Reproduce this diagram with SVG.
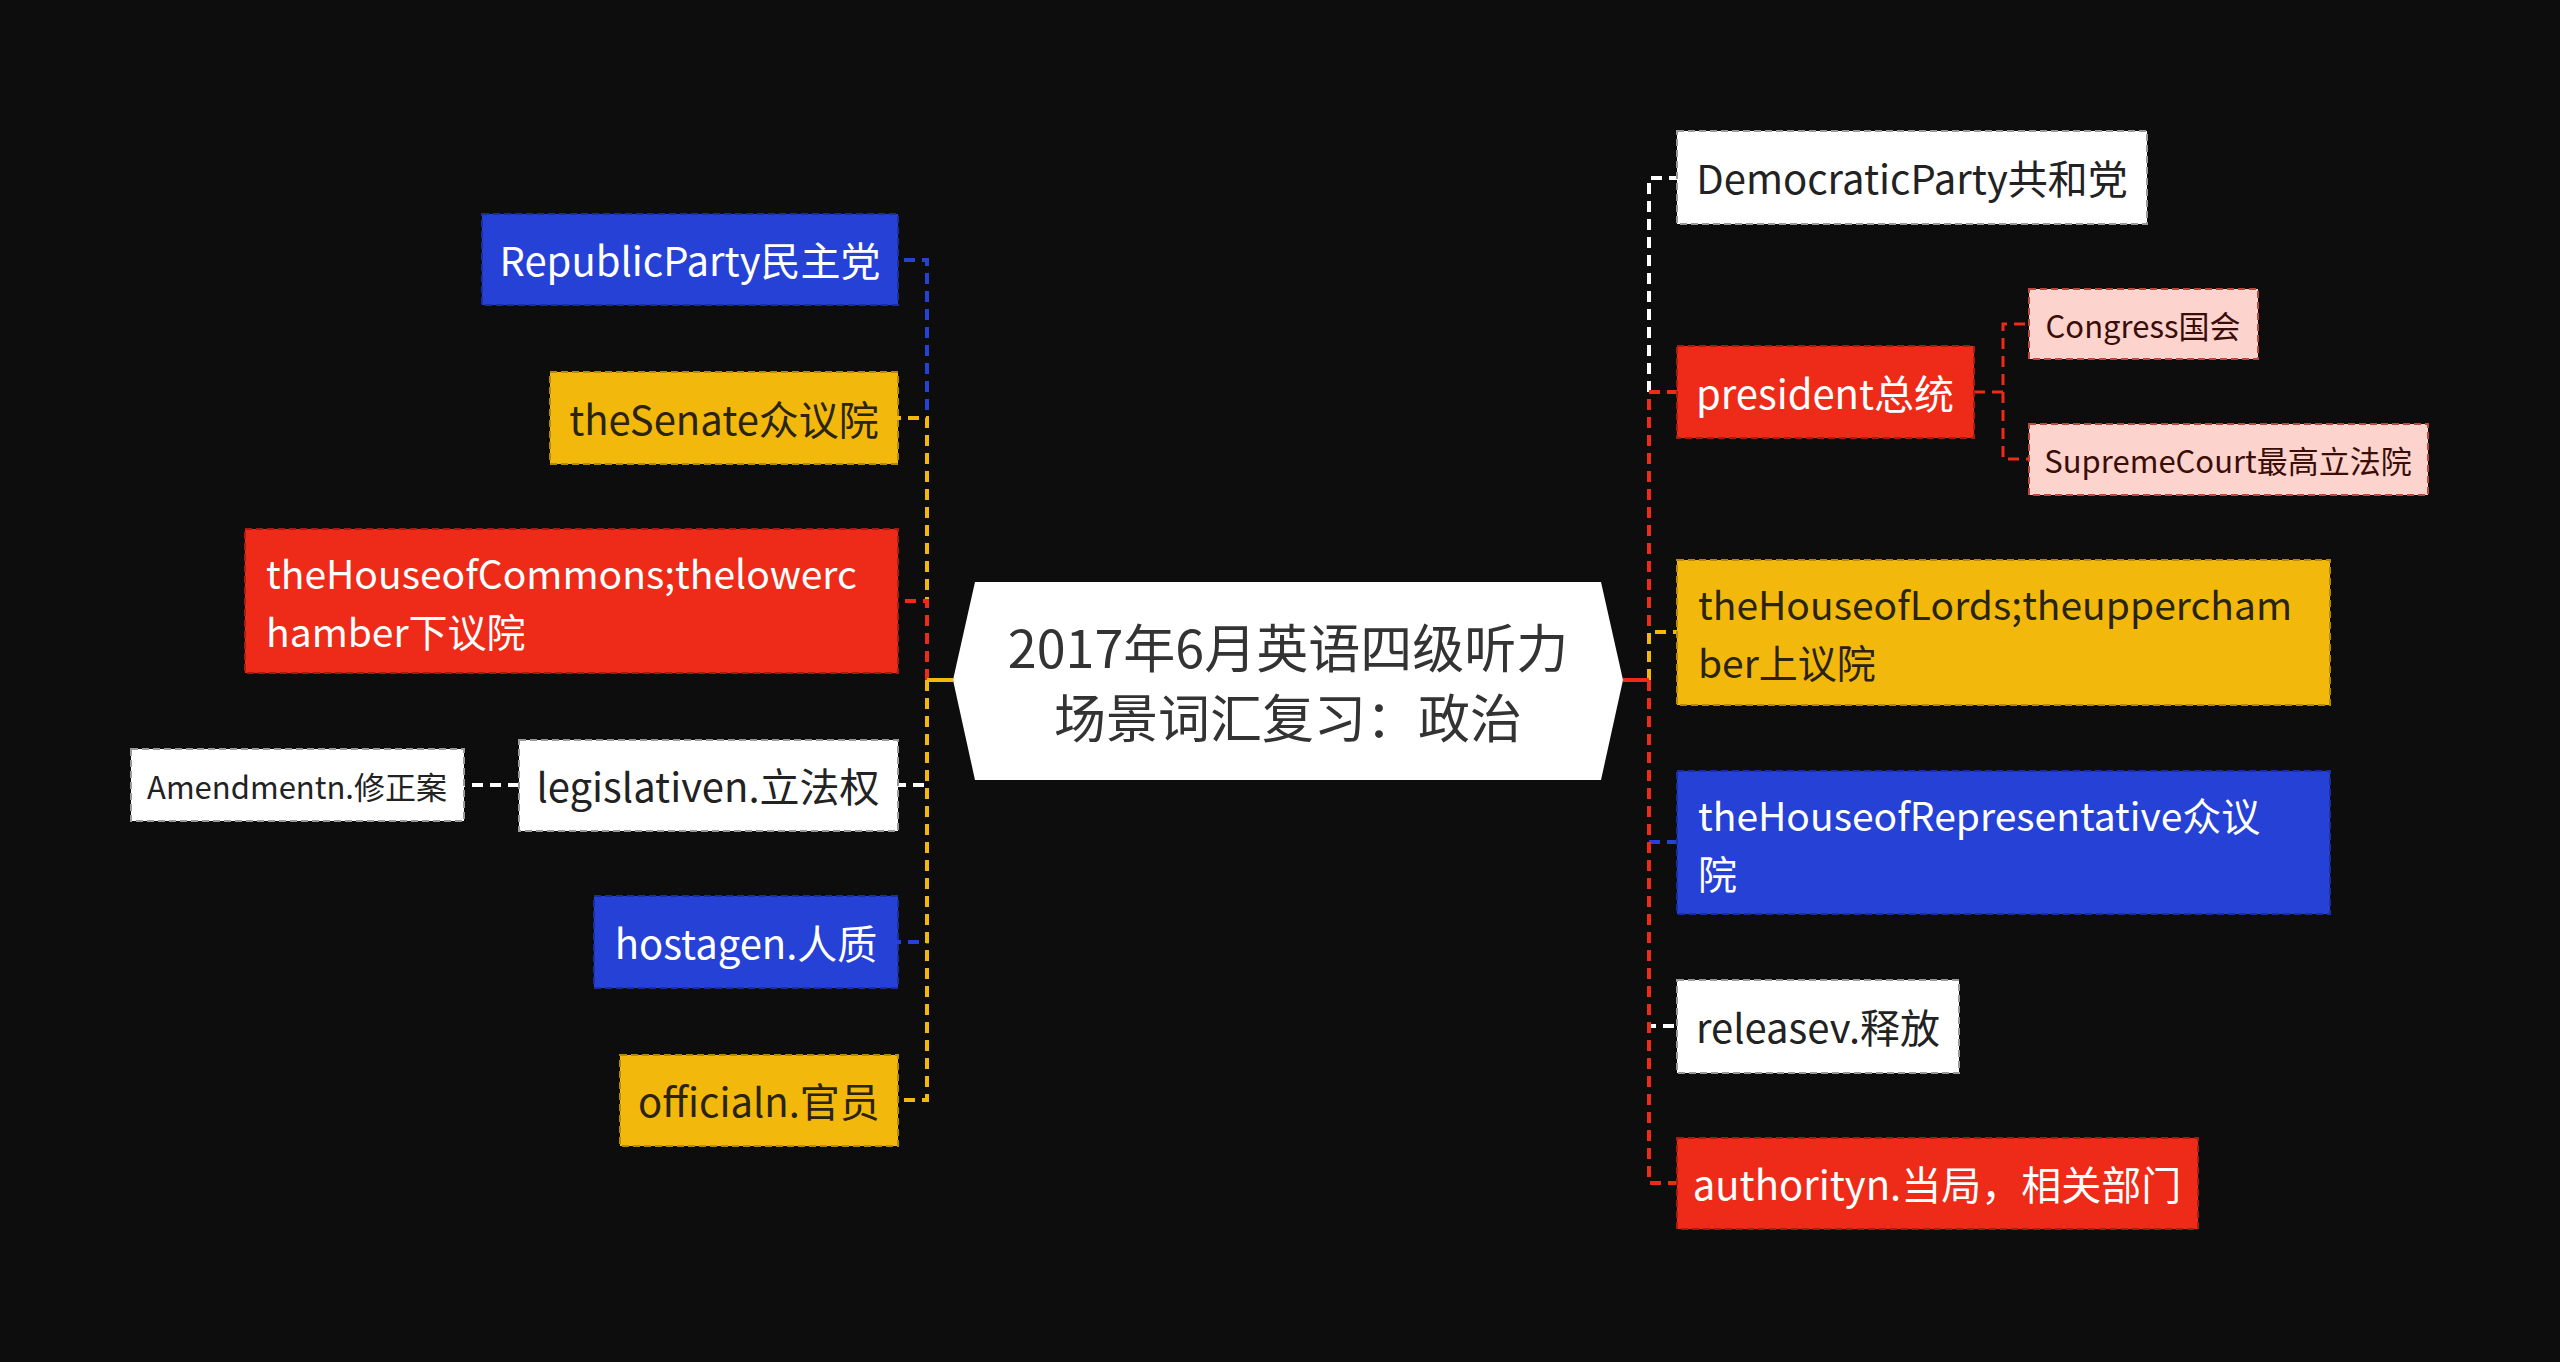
<svg xmlns="http://www.w3.org/2000/svg" width="2560" height="1362" viewBox="0 0 2560 1362">
<style>
.t{font-family:"Noto Sans CJK SC","Noto Sans",sans-serif;font-size:40px;dominant-baseline:central}
.m{font-size:39px}
.s{font-size:31px}
.c{text-anchor:middle}
.box{stroke-width:2;stroke-dasharray:7 4}
.blue{fill:#2541d6;stroke:#1a2f9e}
.yel{fill:#f2b90c;stroke:#b58a06}
.red{fill:#ee2a18;stroke:#a81c10}
.wht{fill:#ffffff;stroke:#9a9a9a}
.pnk{fill:#fcd3cd;stroke:#c0463b}
.tw{fill:#ffffff}
.td{fill:#2a2410}
.tk{fill:#222222}
.tp{fill:#3a0d08}
.ln{fill:none;stroke-width:4;stroke-dasharray:11 7}
.lb{stroke:#2541d6}.ly{stroke:#f2b90c}.lr{stroke:#ee2a18}.lw{stroke:#ffffff}
</style>
<rect x="0" y="0" width="2560" height="1362" fill="#0d0d0d"/>
<g id="connectors">
<path class="ln lb" d="M927 680 V260 H898"/>
<path class="ln ly" d="M927 680 V418 H898"/>
<path class="ln lr" d="M927 680 V601 H898"/>
<path class="ln lw" d="M927 680 V785 H898"/>
<path class="ln lb" d="M927 680 V942 H898"/>
<path class="ln ly" d="M927 680 V1100 H898"/>
<path d="M927 680 H953" stroke="#f2b90c" stroke-width="4" fill="none"/>
<path class="ln lw" d="M519 785 H464"/>
<path class="ln lw" d="M1649 680 V178 H1677"/>
<path class="ln lr" d="M1649 680 V392 H1677"/>
<path class="ln ly" d="M1649 680 V632 H1677"/>
<path class="ln lb" d="M1649 680 V842 H1677"/>
<path class="ln lw" d="M1649 680 V1026 H1677"/>
<path class="ln lr" d="M1649 680 V1183 H1677"/>
<path d="M1623 680 H1649" stroke="#ee2a18" stroke-width="4" fill="none"/>
<path class="ln lr" d="M1974 392 H2003 V324 H2029" style="stroke-width:3"/>
<path class="ln lr" d="M2003 392 V459 H2029" style="stroke-width:3"/>
</g>
<g id="center">
<polygon points="953,680 975,582 1601,582 1623,680 1601,780 975,780" fill="#ffffff"/>
<text class="t c" style="font-size:52px" fill="#333333"><tspan x="1288" y="645">2017年6月英语四级听力</tspan><tspan x="1288" y="715">场景词汇复习：政治</tspan></text>
</g>
<g id="n-republic"><rect class="box blue" x="482" y="214" width="416" height="91"/><text class="t c tw" x="690" y="259">RepublicParty民主党</text></g>
<g id="n-senate"><rect class="box yel" x="550" y="372" width="348" height="92"/><text class="t c td" x="724" y="418">theSenate众议院</text></g>
<g id="n-commons"><rect class="box red" x="245" y="529" width="653" height="144"/><text class="t m tw"><tspan x="266" y="572">theHouseofCommons;thelowerc</tspan><tspan x="266" y="630">hamber下议院</tspan></text></g>
<g id="n-legislative"><rect class="box wht" x="519" y="740" width="379" height="91"/><text class="t c tk" x="708" y="785">legislativen.立法权</text></g>
<g id="n-amendment"><rect class="box wht" x="131" y="749" width="333" height="72"/><text class="t s c tk" x="297" y="785">Amendmentn.修正案</text></g>
<g id="n-hostage"><rect class="box blue" x="594" y="896" width="304" height="92"/><text class="t c tw" x="746" y="942">hostagen.人质</text></g>
<g id="n-official"><rect class="box yel" x="620" y="1055" width="278" height="91"/><text class="t c td" x="759" y="1100">officialn.官员</text></g>
<g id="n-democratic"><rect class="box wht" x="1677" y="131" width="470" height="93"/><text class="t c tk" x="1912" y="177">DemocraticParty共和党</text></g>
<g id="n-president"><rect class="box red" x="1677" y="346" width="297" height="92"/><text class="t c tw" x="1825" y="392">president总统</text></g>
<g id="n-congress"><rect class="box pnk" x="2029" y="289" width="229" height="70"/><text class="t s c tp" x="2143" y="324">Congress国会</text></g>
<g id="n-supreme"><rect class="box pnk" x="2029" y="424" width="399" height="71"/><text class="t s c tp" x="2228" y="459">SupremeCourt最高立法院</text></g>
<g id="n-lords"><rect class="box yel" x="1677" y="560" width="653" height="145"/><text class="t m td"><tspan x="1698" y="603">theHouseofLords;theuppercham</tspan><tspan x="1698" y="661">ber上议院</tspan></text></g>
<g id="n-representative"><rect class="box blue" x="1677" y="771" width="653" height="143"/><text class="t m tw"><tspan x="1698" y="814">theHouseofRepresentative众议</tspan><tspan x="1698" y="872">院</tspan></text></g>
<g id="n-release"><rect class="box wht" x="1677" y="980" width="282" height="93"/><text class="t c tk" x="1818" y="1026">releasev.释放</text></g>
<g id="n-authority"><rect class="box red" x="1677" y="1138" width="521" height="91"/><text class="t c tw" x="1937" y="1183">authorityn.当局，相关部门</text></g>
</svg>
